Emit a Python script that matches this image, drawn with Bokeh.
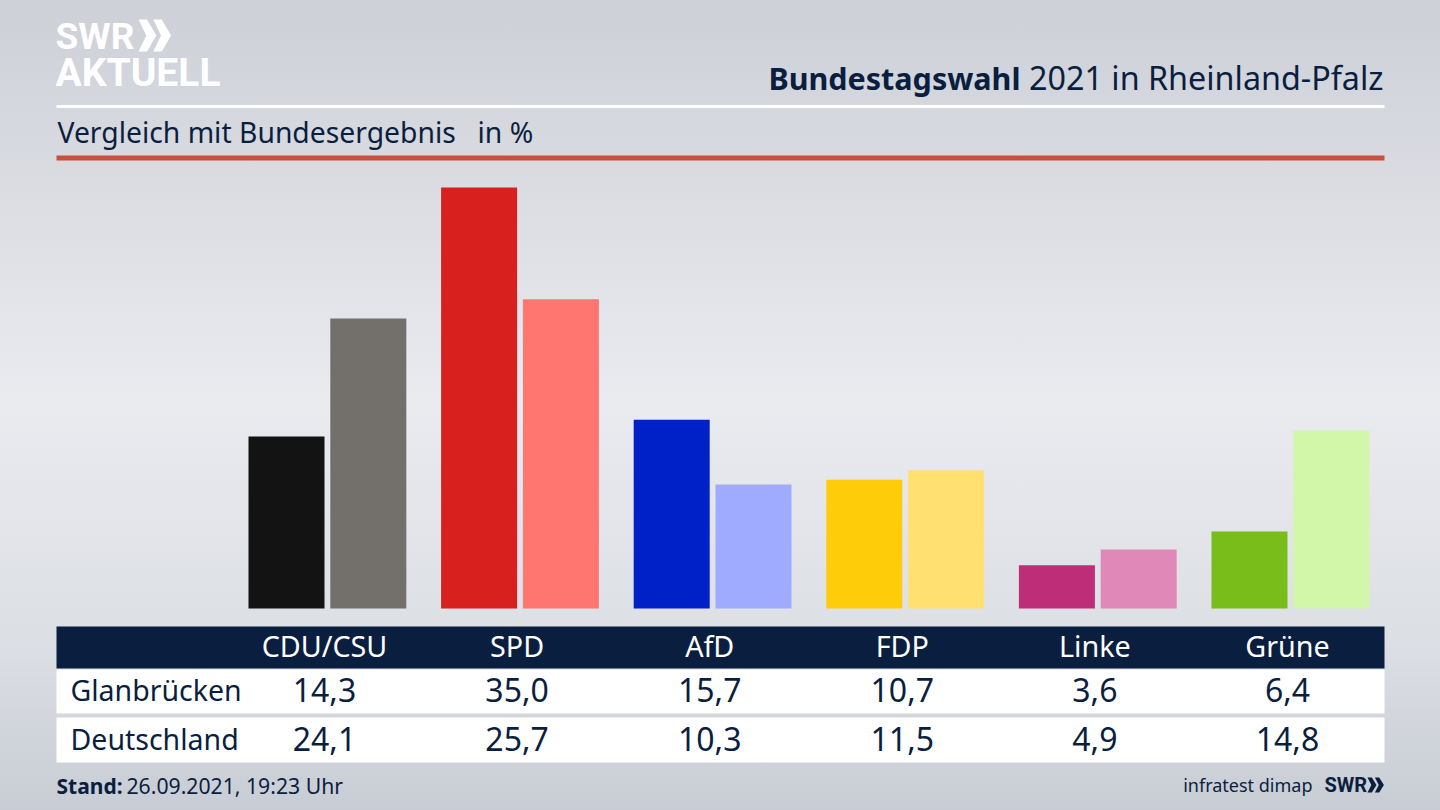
from bokeh.core.properties import value
from bokeh.embed import file_html
from bokeh.models import Range1d
from bokeh.plotting import figure
from bokeh.resources import INLINE

categories = ["CDU/CSU", "SPD", "AfD", "FDP", "Linke", "Grüne"]
glanbruecken = [14.3, 35.0, 15.7, 10.7, 3.6, 6.4]
deutschland = [24.1, 25.7, 10.3, 11.5, 4.9, 14.8]
colors_local = ["#131313", "#d8201e", "#0020c8", "#ffcc0a", "#be2e78", "#79bd1a"]
colors_federal = ["#73706c", "#ff7570", "#9fabff", "#ffe070", "#e088b8", "#d2f7a8"]

NAVY = "#0a1f3f"
FONT = "Noto Sans"

X0, X1, Y0, Y1 = 0, 1440, 0, 810
COL_X, COL_STEP = 324, 192.6   # centre of first table column, column step
BASE_Y, PX_PER_PCT = 608, 12.03  # bar baseline, pixels per percent

p = figure(
    width=X1 - X0,
    height=Y1 - Y0,
    x_range=Range1d(X0, X1),
    y_range=Range1d(Y1, Y0),
    x_axis_location=None,
    y_axis_location=None,
    toolbar_location=None,
    output_backend="svg",
    min_border=0,
    outline_line_color=None,
    background_fill_color=None,
    border_fill_color=None,
)
p.xgrid.grid_line_color = None
p.ygrid.grid_line_color = None

p.extra_x_ranges = {"party": Range1d((X0 - COL_X) / COL_STEP, (X1 - COL_X) / COL_STEP)}
p.extra_y_ranges = {"pct": Range1d((BASE_Y - Y1) / PX_PER_PCT, (BASE_Y - Y0) / PX_PER_PCT)}

idx = list(range(len(categories)))
bar_w = 76 / COL_STEP
p.vbar(
    x=[i - 38 / COL_STEP for i in idx], top=glanbruecken, bottom=0, width=bar_w,
    fill_color=colors_local, line_color=None,
    x_range_name="party", y_range_name="pct",
)
p.vbar(
    x=[i + 43.8 / COL_STEP for i in idx], top=deutschland, bottom=0, width=bar_w,
    fill_color=colors_federal, line_color=None,
    x_range_name="party", y_range_name="pct",
)

# rules and table bands
p.quad(left=56, right=1384, top=104.5, bottom=107.5, fill_color="white", line_color=None)
p.quad(left=56, right=1384, top=155, bottom=160, fill_color="#c9503f", line_color=None)
p.quad(left=56, right=1384, top=626, bottom=668, fill_color=NAVY, line_color=None)
p.quad(left=56, right=1384, top=669, bottom=713, fill_color="white", line_color=None)
p.quad(left=56, right=1384, top=717, bottom=762, fill_color="white", line_color=None)


def label(x, y, txt, size, color=NAVY, align="left", style="normal", font=FONT):
    # y is the baseline wanted on screen; the svg text lands about 0.38em lower
    p.text(
        x=[x], y=[y - 0.38 * size], text=[txt], text_font=value(font), text_font_size=f"{size}px",
        text_color=color, text_align=align, text_baseline="alphabetic",
        text_font_style=style,
    )


def chevrons(x, y, w, h, color):
    # the two arrow heads of the SWR logo
    for dx in (0, w * 0.95):
        p.patch(
            [x + dx, x + dx + w * 0.55, x + dx + w * 1.15, x + dx + w * 0.55, x + dx, x + dx + w * 0.5],
            [y, y, y + h / 2, y + h, y + h, y + h / 2],
            fill_color=color, line_color=None,
        )


# logo
label(55, 50, "SWR", 37, color="white", style="bold", font="Roboto")
chevrons(138, 19, 15.5, 32, "white")
label(55, 87, "AKTUELL", 39, color="white", style="bold", font="Roboto")

# heads
label(1020, 89, "Bundestagswahl", 30.5, align="right", style="bold")
label(1383, 89, "2021 in Rheinland-Pfalz", 32.3, align="right")
label(57, 142, "Vergleich mit Bundesergebnis", 28.3)
label(477, 142, "in %", 28.3)

# table
for i, name in enumerate(categories):
    x = COL_X + COL_STEP * i
    label(x, 656, name, 28.7, color="white", align="center")
    label(x, 702, f"{glanbruecken[i]:.1f}".replace(".", ","), 32, align="center")
    label(x, 751, f"{deutschland[i]:.1f}".replace(".", ","), 32, align="center")
label(70, 700, "Glanbrücken", 28.5)
label(70, 749, "Deutschland", 28.5)

# footer
label(56, 793, "Stand:", 21, style="bold")
label(126, 793, "26.09.2021, 19:23 Uhr", 21.2)
label(1312, 791, "infratest dimap", 18, align="right")
label(1324, 792, "SWR", 20, style="bold", font="Roboto")
chevrons(1367, 777, 7.8, 15, NAVY)

TEMPLATE = """{% block preamble %}<style>
html { height: 100%; background: linear-gradient(180deg, #cdd0d7 0px, #d9dbe1 170px, #eaebef 400px, #dcdfe4 640px, #c8ccd4 810px); }
</style>{% endblock %}
"""

open("out.html", "w").write(file_html(p, INLINE, template=TEMPLATE))
